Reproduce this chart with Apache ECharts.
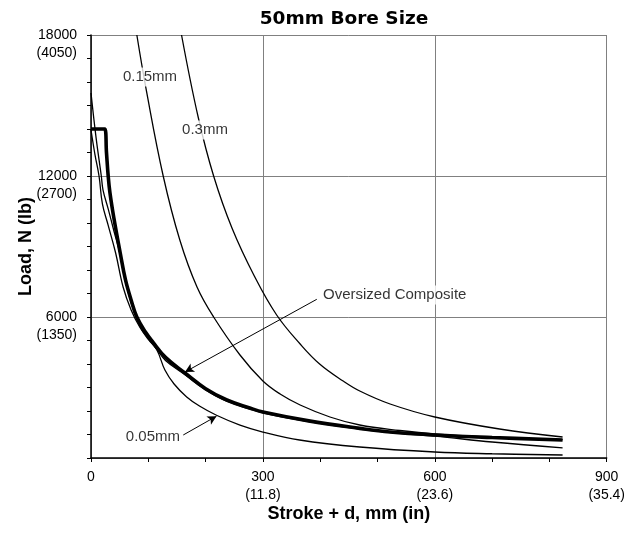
<!DOCTYPE html>
<html>
<head>
<meta charset="utf-8">
<script src="https://cdn.jsdelivr.net/npm/echarts@6/dist/echarts.min.js"></script>
<style>
html,body{margin:0;padding:0;background:#fff;}
#chart{width:628px;height:538px;}
</style>
</head>
<body>
<div id="chart"></div>
<script>
// ---- data (stroke + d in mm, load in N) ----
const oversizedX = [0, 24, 27, 30, 33, 40, 51, 60, 70, 80, 95, 108, 130, 164, 200, 237, 277, 300, 380, 469, 522, 600, 700, 823];
const oversizedY = [14000, 14000, 13000, 12000, 11300, 10200, 8723, 7600, 6723, 6000, 5360, 4930, 4280, 3617, 2950, 2468, 2128, 1957, 1580, 1262, 1106, 979, 870, 766];

const mm005X = [0, 7, 14, 20, 30, 43, 56, 70, 85, 100, 115, 129, 145, 167, 190, 219, 260, 300, 364, 469, 600, 700, 823];
const mm005Y = [13957, 12900, 12000, 10800, 9900, 8723, 7276, 6300, 5574, 5050, 4595, 3744, 3150, 2600, 2200, 1820, 1400, 1106, 766, 468, 255, 180, 128];

const unlabeledX = [0, 9, 18, 21, 30, 40, 51, 60, 70, 85, 100, 115, 130, 164, 200, 237, 300, 380, 469, 539, 600, 700, 823];
const unlabeledY = [15530, 13600, 12000, 11400, 10600, 9660, 8650, 7550, 6620, 5620, 5080, 4620, 4150, 3540, 2900, 2420, 1920, 1550, 1230, 1050, 930, 680, 430];

const mm015X = [80, 97, 126, 155, 185, 214, 260, 300, 330, 365, 417, 469, 539, 600, 700, 823];
const mm015Y = [18000, 15587, 12000, 9276, 7276, 6000, 4383, 3276, 2723, 2255, 1745, 1404, 1170, 1021, 881, 783];

const mm03X = [158, 187, 214, 246, 285, 324, 365, 399, 440, 469, 522, 600, 713, 823];
const mm03Y = [18000, 14510, 12000, 9787, 7744, 6085, 4851, 4000, 3276, 2851, 2298, 1745, 1234, 894];

// tick labels
const xTickMm = [0, 300, 600, 900];
const xTickIn = ['', '(11.8)', '(23.6)', '(35.4)'];
const yTickN = [6000, 12000, 18000];
const yTickLb = ['(1350)', '(2700)', '(4050)'];

// annotation texts
const annoText = ['0.15mm', '0.3mm', 'Oversized Composite', '0.05mm'];
const annoX = [103, 199, 530, 108];
const annoY = [16212, 13957, 6936, 894];

const FONT = '"Liberation Sans", Arial, sans-serif';

function pairs(xs, ys){ return xs.map((x,i)=>[x, ys[i]]); }

function lineSeries(name, xs, ys, width){
  return {
    name, type:'line', data: pairs(xs, ys), showSymbol:false, symbol:'none',
    smooth:0.4,
    lineStyle:{color:'#000', width: width}, silent:true, z: width>2 ? 4 : 3
  };
}

const chart = echarts.init(document.getElementById('chart'), null, {renderer:'canvas'});
chart.setOption({
  animation:false,
  backgroundColor:'#fff',
  graphic:[{
    type:'text', x:344, y:19,
    style:{text:'50mm Bore Size', font:'bold 18.5px "DejaVu Sans", sans-serif', fill:'#000', textAlign:'center', textVerticalAlign:'middle'}
  }],
  grid:{left:91, right:21, top:35, bottom:80, containLabel:false},
  xAxis:{
    type:'value', min:0, max:900, interval:300,
    name:'Stroke + d, mm (in)', nameLocation:'middle', nameGap:47, nameMoveOverlap:false,
    nameTextStyle:{fontFamily:FONT, fontWeight:'bold', fontSize:18, color:'#000'},
    axisLine:{show:true, onZero:false, lineStyle:{color:'#000', width:1.5}},
    axisTick:{show:true, length:4, lineStyle:{color:'#000', width:1}},
    minorTick:{show:true, splitNumber:3, length:4, lineStyle:{color:'#000', width:1}},
    splitLine:{show:true, lineStyle:{color:'#808080', width:1}},
    axisLabel:{
      fontFamily:FONT, fontSize:14, color:'#000', lineHeight:18, margin:10,
      formatter:(v)=>{ const i = xTickMm.indexOf(v); if(i<0) return ''; return xTickIn[i] ? v + '\n' + xTickIn[i] : String(v); }
    }
  },
  yAxis:{
    type:'value', min:0, max:18000, interval:6000,
    name:'Load, N (lb)', nameLocation:'middle', nameGap:56, nameRotate:90, nameMoveOverlap:false,
    nameTextStyle:{fontFamily:FONT, fontWeight:'bold', fontSize:18, color:'#000'},
    axisLine:{show:true, onZero:false, lineStyle:{color:'#000', width:1.5}},
    axisTick:{show:true, length:4, lineStyle:{color:'#000', width:1}},
    minorTick:{show:true, splitNumber:6, length:4, lineStyle:{color:'#000', width:1}},
    splitLine:{show:true, lineStyle:{color:'#808080', width:1}},
    axisLabel:{
      fontFamily:FONT, fontSize:14, color:'#000', lineHeight:18, margin:14,
      formatter:(v)=>{ const i = yTickN.indexOf(v); if(i<0) return ''; return ' \n' + v + '\n' + yTickLb[i]; }
    }
  },
  series:[
    lineSeries('0.3mm', mm03X, mm03Y, 1.3),
    lineSeries('0.15mm', mm015X, mm015Y, 1.3),
    lineSeries('unlabeled', unlabeledX, unlabeledY, 1.3),
    lineSeries('0.05mm', mm005X, mm005Y, 1.3),
    lineSeries('Oversized Composite', oversizedX, oversizedY, 3.6),
    {
      name:'annotations', type:'scatter', symbolSize:0, silent:true, z:10,
      data: annoText.map((t,i)=>({value:[annoX[i], annoY[i]], name:t})),
      label:{show:true, position:'inside', formatter:(p)=>p.name, fontFamily:FONT, fontSize:15, color:'#000',
             backgroundColor:'#fff', padding:[2,1,2,1]},
      markLine:{
        silent:true, symbol:['none','arrow'], symbolSize:[7,9], label:{show:false},
        lineStyle:{color:'#000', width:1, type:'solid'},
        emphasis:{disabled:true},
        data:[
          [{coord:[394, 6753]}, {coord:[164, 3659]}],
          [{coord:[161, 979]}, {coord:[219, 1780]}]
        ]
      }
    }
  ]
});
</script>
</body>
</html>
